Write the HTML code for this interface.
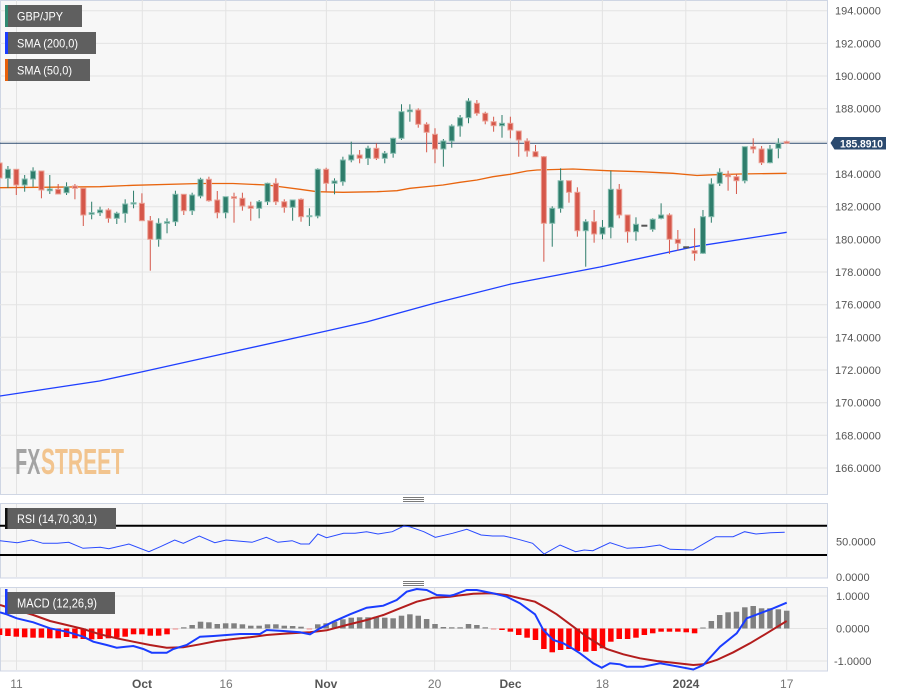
<!DOCTYPE html>
<html><head><meta charset="utf-8"><style>
html,body{margin:0;padding:0;background:#fff;}
svg{display:block;font-family:"Liberation Sans",Arial,sans-serif;}
.g{fill:#2e7d6b;stroke:#2e7d6b;}
.r{fill:#d5574a;stroke:#d5574a;}
rect.g{stroke:#86bdb0;stroke-width:1;}
rect.r{stroke:#eba095;stroke-width:1;}
.ax{font-size:11px;fill:#555;}
.dt{font-size:12px;fill:#777;text-anchor:middle;}
.dm{font-size:12px;fill:#555;font-weight:bold;text-anchor:middle;}
.grid line{stroke:#e3e3e3;stroke-width:1;}
.hr{fill:#ff0000;} .hg{fill:#808080;}
</style></head><body>
<svg width="898" height="697" viewBox="0 0 898 697" xmlns="http://www.w3.org/2000/svg">
<defs>
<clipPath id="cm"><rect x="0" y="0" width="827" height="494"/></clipPath>
<clipPath id="cr"><rect x="0" y="503" width="827" height="75"/></clipPath>
<clipPath id="cd"><rect x="0" y="587" width="827" height="84"/></clipPath>
</defs>
<rect x="0" y="0" width="898" height="697" fill="#fff"/>
<!-- panels -->
<rect x="0.5" y="0.5" width="827" height="494" fill="#f7f7f7" stroke="#cfd6e4"/>
<rect x="0.5" y="503.5" width="827" height="74.5" fill="#f7f7f7" stroke="#cfd6e4"/>
<rect x="0.5" y="587.5" width="827" height="83.5" fill="#f7f7f7" stroke="#cfd6e4"/>

<!-- grids main -->
<g class="grid" clip-path="url(#cm)">
<line x1="0" x2="827" y1="10.7" y2="10.7"/><line x1="0" x2="827" y1="43.4" y2="43.4"/>
<line x1="0" x2="827" y1="76" y2="76"/><line x1="0" x2="827" y1="108.7" y2="108.7"/>
<line x1="0" x2="827" y1="141.3" y2="141.3"/><line x1="0" x2="827" y1="174" y2="174"/>
<line x1="0" x2="827" y1="206.7" y2="206.7"/><line x1="0" x2="827" y1="239.3" y2="239.3"/>
<line x1="0" x2="827" y1="272" y2="272"/><line x1="0" x2="827" y1="304.7" y2="304.7"/>
<line x1="0" x2="827" y1="337.3" y2="337.3"/><line x1="0" x2="827" y1="370" y2="370"/>
<line x1="0" x2="827" y1="402.7" y2="402.7"/><line x1="0" x2="827" y1="435.3" y2="435.3"/>
<line x1="0" x2="827" y1="468" y2="468"/>
<line x1="16.5" x2="16.5" y1="0" y2="494"/><line x1="142.3" x2="142.3" y1="0" y2="494"/>
<line x1="225.8" x2="225.8" y1="0" y2="494"/><line x1="326.4" x2="326.4" y1="0" y2="494"/>
<line x1="434.6" x2="434.6" y1="0" y2="494"/><line x1="510.5" x2="510.5" y1="0" y2="494"/>
<line x1="602.4" x2="602.4" y1="0" y2="494"/><line x1="685.8" x2="685.8" y1="0" y2="494"/>
<line x1="786.7" x2="786.7" y1="0" y2="494"/>
</g>
<g class="grid">
<line x1="16.5" x2="16.5" y1="504" y2="577"/><line x1="142.3" x2="142.3" y1="504" y2="577"/>
<line x1="225.8" x2="225.8" y1="504" y2="577"/><line x1="326.4" x2="326.4" y1="504" y2="577"/>
<line x1="434.6" x2="434.6" y1="504" y2="577"/><line x1="510.5" x2="510.5" y1="504" y2="577"/>
<line x1="602.4" x2="602.4" y1="504" y2="577"/><line x1="685.8" x2="685.8" y1="504" y2="577"/>
<line x1="786.7" x2="786.7" y1="504" y2="577"/>
<line x1="16.5" x2="16.5" y1="588" y2="670"/><line x1="142.3" x2="142.3" y1="588" y2="670"/>
<line x1="225.8" x2="225.8" y1="588" y2="670"/><line x1="326.4" x2="326.4" y1="588" y2="670"/>
<line x1="434.6" x2="434.6" y1="588" y2="670"/><line x1="510.5" x2="510.5" y1="588" y2="670"/>
<line x1="602.4" x2="602.4" y1="588" y2="670"/><line x1="685.8" x2="685.8" y1="588" y2="670"/>
<line x1="786.7" x2="786.7" y1="588" y2="670"/>
<line x1="1" x2="827" y1="596" y2="596"/><line x1="1" x2="827" y1="628.5" y2="628.5"/>
<line x1="1" x2="827" y1="661" y2="661"/>
</g>

<!-- logo -->
<text x="15.3" y="474" font-size="36" font-weight="bold" fill="#a3a3a3" textLength="25" lengthAdjust="spacingAndGlyphs">FX</text>
<text x="41" y="474" font-size="36" font-weight="bold" fill="#f2c48e" textLength="83" lengthAdjust="spacingAndGlyphs">STREET</text>

<g clip-path="url(#cm)">
<!-- SMA 200 -->
<polyline fill="none" stroke="#1f3fff" stroke-width="1.3" points="0,396 99.5,381 142.4,371.7 225.8,353.3 326.4,331 367.4,321.7 434.4,303.3 511,284 600,267 694,246.7 786.7,232.3"/>
<!-- SMA 50 -->
<polyline fill="none" stroke="#e8650f" stroke-width="1.3" points="0,187.7 100,186.7 133,185.3 200,183.5 233,183.5 267,185 300,189.3 317,191.7 343,192.3 377,191.7 397,190.7 410,188.3 443,185 460,182.3 477,180 493,176.7 510,174.3 527,171 537,170 573,169 607,170.7 640,171.7 673,173.3 697,175.5 713,174.8 740,174 786.7,173.3"/>
<!-- price line -->
<line x1="0" x2="827" y1="143.3" y2="143.3" stroke="#2b4a6f" stroke-width="1"/>

<!-- candles -->
<line class="r" x1="-0.45" x2="-0.45" y1="163" y2="183"/><rect class="r" x="-2.95" y="163" width="5" height="15"/>
<line class="g" x1="7.93" x2="7.93" y1="166" y2="188"/><rect class="g" x="5.43" y="169.3" width="5" height="9"/>
<line class="r" x1="16.3" x2="16.3" y1="169.3" y2="195"/><rect class="r" x="13.8" y="169.3" width="5" height="15.7"/>
<line class="g" x1="24.67" x2="24.67" y1="175" y2="191.7"/><rect class="g" x="22.17" y="179" width="5" height="6"/>
<line class="g" x1="33.05" x2="33.05" y1="167.3" y2="186.7"/><rect class="g" x="30.55" y="171" width="5" height="8"/>
<line class="r" x1="41.42" x2="41.42" y1="171" y2="198.3"/><rect class="r" x="38.92" y="171" width="5" height="19"/>
<line class="g" x1="49.8" x2="49.8" y1="175" y2="194"/><rect class="g" x="47.3" y="189" width="5" height="1.7"/>
<line class="r" x1="58.17" x2="58.17" y1="184" y2="194"/><rect class="r" x="55.67" y="189.3" width="5" height="4.7"/>
<line class="g" x1="66.54" x2="66.54" y1="182.3" y2="195"/><rect class="g" x="64.04" y="186.7" width="5" height="6"/>
<line class="r" x1="74.92" x2="74.92" y1="184" y2="199.3"/><rect class="r" x="72.42" y="186" width="5" height="2.3"/>
<line class="r" x1="83.29" x2="83.29" y1="188.3" y2="226"/><rect class="r" x="80.79" y="188.3" width="5" height="26.7"/>
<line class="g" x1="91.67" x2="91.67" y1="201.7" y2="219.3"/><rect class="g" x="89.17" y="212.7" width="5" height="1.6"/>
<line class="g" x1="100.04" x2="100.04" y1="206.7" y2="216"/><rect class="g" x="97.54" y="210" width="5" height="2.7"/>
<line class="r" x1="108.41" x2="108.41" y1="208.3" y2="222.7"/><rect class="r" x="105.91" y="210" width="5" height="8.3"/>
<line class="g" x1="116.79" x2="116.79" y1="211.7" y2="224"/><rect class="g" x="114.29" y="213.3" width="5" height="5"/>
<line class="g" x1="125.16" x2="125.16" y1="199.3" y2="222.7"/><rect class="g" x="122.66" y="204" width="5" height="9.3"/>
<line class="g" x1="133.54" x2="133.54" y1="190.7" y2="208.3"/><rect class="g" x="131.04" y="202.7" width="5" height="1.3"/>
<line class="r" x1="141.91" x2="141.91" y1="193.3" y2="220.7"/><rect class="r" x="139.41" y="203.3" width="5" height="17.4"/>
<line class="r" x1="150.28" x2="150.28" y1="216" y2="270.7"/><rect class="r" x="147.78" y="220.7" width="5" height="18.6"/>
<line class="g" x1="158.66" x2="158.66" y1="218.3" y2="246.7"/><rect class="g" x="156.16" y="223.3" width="5" height="16"/>
<line class="g" x1="167.03" x2="167.03" y1="218.3" y2="233.3"/><rect class="g" x="164.53" y="221.7" width="5" height="1.6"/>
<line class="g" x1="175.41" x2="175.41" y1="190.7" y2="226"/><rect class="g" x="172.91" y="194.3" width="5" height="27.4"/>
<line class="r" x1="183.78" x2="183.78" y1="194.3" y2="215"/><rect class="r" x="181.28" y="194.3" width="5" height="16.4"/>
<line class="g" x1="192.15" x2="192.15" y1="192.7" y2="215"/><rect class="g" x="189.65" y="195" width="5" height="15.7"/>
<line class="g" x1="200.53" x2="200.53" y1="177.7" y2="198.3"/><rect class="g" x="198.03" y="179.3" width="5" height="16.7"/>
<line class="r" x1="208.9" x2="208.9" y1="176.7" y2="201.7"/><rect class="r" x="206.4" y="179.3" width="5" height="21.4"/>
<line class="r" x1="217.28" x2="217.28" y1="191" y2="218.3"/><rect class="r" x="214.78" y="200" width="5" height="12.7"/>
<line class="g" x1="225.65" x2="225.65" y1="196.7" y2="218.3"/><rect class="g" x="223.15" y="196.7" width="5" height="16"/>
<line class="r" x1="234.02" x2="234.02" y1="192.7" y2="222.7"/><rect class="r" x="231.52" y="196.7" width="5" height="1.6"/>
<line class="r" x1="242.4" x2="242.4" y1="192.7" y2="210.7"/><rect class="r" x="239.9" y="198.3" width="5" height="7.7"/>
<line class="r" x1="250.77" x2="250.77" y1="201.7" y2="220.7"/><rect class="r" x="248.27" y="206" width="5" height="2.3"/>
<line class="g" x1="259.15" x2="259.15" y1="200" y2="218.3"/><rect class="g" x="256.65" y="201.7" width="5" height="6.6"/>
<line class="g" x1="267.52" x2="267.52" y1="182.7" y2="205"/><rect class="g" x="265.02" y="183.3" width="5" height="18.4"/>
<line class="r" x1="275.89" x2="275.89" y1="178.3" y2="205"/><rect class="r" x="273.39" y="183.3" width="5" height="18.4"/>
<line class="r" x1="284.27" x2="284.27" y1="199.3" y2="212.7"/><rect class="r" x="281.77" y="201.7" width="5" height="5.6"/>
<line class="g" x1="292.64" x2="292.64" y1="200" y2="220.7"/><rect class="g" x="290.14" y="200" width="5" height="7.3"/>
<line class="r" x1="301.02" x2="301.02" y1="198.3" y2="221.7"/><rect class="r" x="298.52" y="199.3" width="5" height="17.4"/>
<line class="g" x1="309.39" x2="309.39" y1="208.3" y2="226"/><rect class="g" x="306.89" y="215.7" width="5" height="1"/>
<line class="g" x1="317.76" x2="317.76" y1="168.3" y2="218.3"/><rect class="g" x="315.26" y="169.3" width="5" height="46.7"/>
<line class="r" x1="326.14" x2="326.14" y1="167.7" y2="191.7"/><rect class="r" x="323.64" y="169.3" width="5" height="14"/>
<line class="g" x1="334.51" x2="334.51" y1="178.3" y2="194.3"/><rect class="g" x="332.01" y="181" width="5" height="2.3"/>
<line class="g" x1="342.89" x2="342.89" y1="156.7" y2="185.7"/><rect class="g" x="340.39" y="160" width="5" height="21.7"/>
<line class="g" x1="351.26" x2="351.26" y1="141.7" y2="162.3"/><rect class="g" x="348.76" y="155" width="5" height="5"/>
<line class="r" x1="359.63" x2="359.63" y1="150" y2="163.3"/><rect class="r" x="357.13" y="155" width="5" height="3.3"/>
<line class="g" x1="368.01" x2="368.01" y1="145.7" y2="165"/><rect class="g" x="365.51" y="148.3" width="5" height="10"/>
<line class="r" x1="376.38" x2="376.38" y1="143.3" y2="160"/><rect class="r" x="373.88" y="148.3" width="5" height="10"/>
<line class="g" x1="384.76" x2="384.76" y1="151" y2="163.3"/><rect class="g" x="382.26" y="153.3" width="5" height="5"/>
<line class="g" x1="393.13" x2="393.13" y1="137.7" y2="157.7"/><rect class="g" x="390.63" y="138.3" width="5" height="15"/>
<line class="g" x1="401.5" x2="401.5" y1="104.3" y2="140"/><rect class="g" x="399" y="111.7" width="5" height="26.6"/>
<line class="g" x1="409.88" x2="409.88" y1="104.3" y2="121.7"/><rect class="g" x="407.38" y="110" width="5" height="1.7"/>
<line class="r" x1="418.25" x2="418.25" y1="108.3" y2="127.7"/><rect class="r" x="415.75" y="110" width="5" height="14.3"/>
<line class="r" x1="426.63" x2="426.63" y1="122.3" y2="152.3"/><rect class="r" x="424.13" y="124.3" width="5" height="8"/>
<line class="r" x1="435" x2="435" y1="128.3" y2="163.3"/><rect class="r" x="432.5" y="134.3" width="5" height="14.7"/>
<line class="g" x1="443.37" x2="443.37" y1="139" y2="166.7"/><rect class="g" x="440.87" y="141" width="5" height="8"/>
<line class="g" x1="451.75" x2="451.75" y1="124.3" y2="147.7"/><rect class="g" x="449.25" y="126" width="5" height="15"/>
<line class="g" x1="460.12" x2="460.12" y1="115" y2="136.7"/><rect class="g" x="457.62" y="117.7" width="5" height="8.3"/>
<line class="g" x1="468.5" x2="468.5" y1="98.3" y2="123.3"/><rect class="g" x="466" y="101" width="5" height="16.7"/>
<line class="r" x1="476.87" x2="476.87" y1="100" y2="115.7"/><rect class="r" x="474.37" y="103.3" width="5" height="10"/>
<line class="r" x1="485.24" x2="485.24" y1="111.7" y2="124.3"/><rect class="r" x="482.74" y="113.3" width="5" height="7.7"/>
<line class="r" x1="493.62" x2="493.62" y1="116.7" y2="131.7"/><rect class="r" x="491.12" y="121.7" width="5" height="4"/>
<line class="g" x1="501.99" x2="501.99" y1="115" y2="137.7"/><rect class="g" x="499.49" y="123.3" width="5" height="2.4"/>
<line class="r" x1="510.37" x2="510.37" y1="116.7" y2="138.3"/><rect class="r" x="507.87" y="123.3" width="5" height="6.7"/>
<line class="r" x1="518.74" x2="518.74" y1="131" y2="156.7"/><rect class="r" x="516.24" y="131" width="5" height="9"/>
<line class="r" x1="527.11" x2="527.11" y1="138.3" y2="156.7"/><rect class="r" x="524.61" y="141" width="5" height="10"/>
<line class="r" x1="535.49" x2="535.49" y1="145" y2="156.7"/><rect class="r" x="532.99" y="151.7" width="5" height="5"/>
<line class="r" x1="543.86" x2="543.86" y1="156" y2="261.7"/><rect class="r" x="541.36" y="156.7" width="5" height="66.6"/>
<line class="g" x1="552.24" x2="552.24" y1="206.3" y2="246.7"/><rect class="g" x="549.74" y="208.3" width="5" height="15"/>
<line class="g" x1="560.61" x2="560.61" y1="168.3" y2="212.7"/><rect class="g" x="558.11" y="180.7" width="5" height="27.6"/>
<line class="r" x1="568.98" x2="568.98" y1="180.7" y2="202.7"/><rect class="r" x="566.48" y="180.7" width="5" height="11.6"/>
<line class="r" x1="577.36" x2="577.36" y1="187.3" y2="236.7"/><rect class="r" x="574.86" y="192.3" width="5" height="38.4"/>
<line class="g" x1="585.73" x2="585.73" y1="219.3" y2="266.7"/><rect class="g" x="583.23" y="221.7" width="5" height="9"/>
<line class="r" x1="594.11" x2="594.11" y1="210" y2="242.7"/><rect class="r" x="591.61" y="221.7" width="5" height="12.3"/>
<line class="g" x1="602.48" x2="602.48" y1="220" y2="239.3"/><rect class="g" x="599.98" y="227.3" width="5" height="6.7"/>
<line class="g" x1="610.85" x2="610.85" y1="170.7" y2="238.3"/><rect class="g" x="608.35" y="189.3" width="5" height="38"/>
<line class="r" x1="619.23" x2="619.23" y1="184" y2="218.3"/><rect class="r" x="616.73" y="189.3" width="5" height="25.7"/>
<line class="r" x1="627.6" x2="627.6" y1="215" y2="242.7"/><rect class="r" x="625.1" y="215" width="5" height="16.7"/>
<line class="g" x1="635.98" x2="635.98" y1="217.3" y2="240.7"/><rect class="g" x="633.48" y="224.3" width="5" height="7.4"/>
<rect x="641.35" y="224.7" width="6" height="2" fill="#555"/>
<line class="g" x1="652.72" x2="652.72" y1="218.3" y2="231.7"/><rect class="g" x="650.22" y="219.3" width="5" height="10"/>
<line class="g" x1="661.1" x2="661.1" y1="203.3" y2="219.3"/><rect class="g" x="658.6" y="215" width="5" height="3.3"/>
<line class="r" x1="669.47" x2="669.47" y1="213.3" y2="254"/><rect class="r" x="666.97" y="215" width="5" height="24.3"/>
<line class="r" x1="677.85" x2="677.85" y1="230" y2="250.7"/><rect class="r" x="675.35" y="239.3" width="5" height="4"/>
<rect x="683.22" y="246.3" width="6" height="2" fill="#555"/>
<line class="r" x1="694.59" x2="694.59" y1="228.3" y2="260.7"/><rect class="r" x="692.09" y="250.7" width="5" height="2.6"/>
<line class="g" x1="702.97" x2="702.97" y1="210" y2="254"/><rect class="g" x="700.47" y="216.7" width="5" height="36.6"/>
<line class="g" x1="711.34" x2="711.34" y1="178.3" y2="222.7"/><rect class="g" x="708.84" y="184" width="5" height="32.7"/>
<line class="g" x1="719.72" x2="719.72" y1="168.3" y2="186"/><rect class="g" x="717.22" y="172.3" width="5" height="11"/>
<line class="r" x1="728.09" x2="728.09" y1="170.7" y2="190.7"/><rect class="r" x="725.59" y="175" width="5" height="1.7"/>
<line class="r" x1="736.46" x2="736.46" y1="174" y2="194"/><rect class="r" x="733.96" y="176.7" width="5" height="4"/>
<line class="g" x1="744.84" x2="744.84" y1="146.7" y2="183.3"/><rect class="g" x="742.34" y="146.7" width="5" height="34"/>
<line class="r" x1="753.21" x2="753.21" y1="138.3" y2="153.3"/><rect class="r" x="750.71" y="146.7" width="5" height="2.3"/>
<line class="r" x1="761.59" x2="761.59" y1="146" y2="165"/><rect class="r" x="759.09" y="149" width="5" height="13.7"/>
<line class="g" x1="769.96" x2="769.96" y1="145" y2="163.3"/><rect class="g" x="767.46" y="149" width="5" height="13.7"/>
<line class="g" x1="778.33" x2="778.33" y1="138.3" y2="158.3"/><rect class="g" x="775.83" y="143.3" width="5" height="5"/>
<line class="r" x1="786.71" x2="786.71" y1="140.7" y2="143.3"/><rect class="r" x="784.21" y="141.7" width="5" height="1.6"/>
</g>

<!-- legend -->
<rect x="5" y="5" width="77" height="22" fill="#5f5f5f"/><rect x="5" y="5" width="3" height="22" fill="#2f8a72"/>
<text x="17" y="20.5" font-size="12" fill="#fff" textLength="46" lengthAdjust="spacingAndGlyphs">GBP/JPY</text>
<rect x="5" y="32" width="91" height="22" fill="#5f5f5f"/><rect x="5" y="32" width="3" height="22" fill="#1a3cff"/>
<text x="17" y="47.5" font-size="12" fill="#fff" textLength="61" lengthAdjust="spacingAndGlyphs">SMA (200,0)</text>
<rect x="5" y="59" width="85" height="22" fill="#5f5f5f"/><rect x="5" y="59" width="3" height="22" fill="#e8600a"/>
<text x="17" y="74.5" font-size="12" fill="#fff" textLength="55" lengthAdjust="spacingAndGlyphs">SMA (50,0)</text>

<!-- right axis main -->
<text class="ax" x="835" y="14.7">194.0000</text>
<text class="ax" x="835" y="47.4">192.0000</text>
<text class="ax" x="835" y="80">190.0000</text>
<text class="ax" x="835" y="112.7">188.0000</text>
<text class="ax" x="835" y="178">184.0000</text>
<text class="ax" x="835" y="210.7">182.0000</text>
<text class="ax" x="835" y="243.3">180.0000</text>
<text class="ax" x="835" y="276">178.0000</text>
<text class="ax" x="835" y="308.7">176.0000</text>
<text class="ax" x="835" y="341.3">174.0000</text>
<text class="ax" x="835" y="374">172.0000</text>
<text class="ax" x="835" y="406.7">170.0000</text>
<text class="ax" x="835" y="439.3">168.0000</text>
<text class="ax" x="835" y="472">166.0000</text>
<polygon points="830.5,143 834.5,137 886,137 886,149.5 834.5,149.5" fill="#2b4a6f"/>
<text x="840" y="147.3" font-size="11" font-weight="bold" fill="#fff" textLength="43" lengthAdjust="spacingAndGlyphs">185.8910</text>

<!-- separators -->
<g stroke="#7a7a7a" stroke-width="1">
<line x1="403" x2="424" y1="497.5" y2="497.5"/><line x1="403" x2="424" y1="499.5" y2="499.5"/><line x1="403" x2="424" y1="501.5" y2="501.5"/>
<line x1="403" x2="424" y1="581.5" y2="581.5"/><line x1="403" x2="424" y1="583.5" y2="583.5"/><line x1="403" x2="424" y1="585.5" y2="585.5"/>
</g>

<!-- RSI -->
<g clip-path="url(#cr)">
<line x1="0" x2="827" y1="525.7" y2="525.7" stroke="#000" stroke-width="2"/>
<line x1="0" x2="827" y1="555" y2="555" stroke="#000" stroke-width="2"/>
<polyline fill="none" stroke="#2a4bff" stroke-width="1" points="0,540.7 17.2,542.7 31.5,540 43,543.3 57.3,543.3 68.7,542.3 83,548.3 100.2,547.3 108.8,548.7 128.9,544 148.9,551.7 160.4,546.7 174.7,540 183.3,543.3 199.3,536 214.8,542.7 226.2,540 234.8,540.7 252,542.3 266.3,537.3 277.8,542.3 292.1,540.7 300.7,544 309.3,544 317.9,534 326.5,537.7 343.6,533.3 355.1,533.3 366.6,531.7 378,534 392.3,531.7 403.8,526 409.5,526.7 423.8,531.7 435.3,537.3 452.5,533.3 466.8,529.3 481.1,535 492.6,536 504,536 518.3,539.3 532.6,543.3 544.1,554 560.1,545 575.6,551.7 584.2,550 592.8,550.7 610,542.7 627.1,548.3 644.3,547.3 659.8,545 670.1,549.3 693,550 707.3,541.7 715.9,536.7 733.1,536.7 744.6,531.7 756,534 770.3,532.7 784.7,532.3"/>
</g>
<rect x="5" y="508" width="111" height="21" fill="#5f5f5f"/><rect x="5" y="508" width="2.5" height="21" fill="#111"/>
<text x="17" y="523" font-size="12" fill="#fff" textLength="80" lengthAdjust="spacingAndGlyphs">RSI (14,70,30,1)</text>
<text class="ax" x="836" y="545.5">50.0000</text>
<text class="ax" x="836" y="581">0.0000</text>

<!-- MACD -->
<g clip-path="url(#cd)">
<rect class="hr" x="-3.2" y="628.5" width="5.5" height="6.5"/>
<rect class="hr" x="5.18" y="628.5" width="5.5" height="7.5"/>
<rect class="hr" x="13.55" y="628.5" width="5.5" height="8.2"/>
<rect class="hr" x="21.92" y="628.5" width="5.5" height="8.8"/>
<rect class="hr" x="30.3" y="628.5" width="5.5" height="9.2"/>
<rect class="hr" x="38.67" y="628.5" width="5.5" height="9.2"/>
<rect class="hr" x="47.05" y="628.5" width="5.5" height="9.8"/>
<rect class="hr" x="55.42" y="628.5" width="5.5" height="9.8"/>
<rect class="hr" x="63.79" y="628.5" width="5.5" height="8.5"/>
<rect class="hr" x="72.17" y="628.5" width="5.5" height="9.8"/>
<rect class="hr" x="80.54" y="628.5" width="5.5" height="10.5"/>
<rect class="hr" x="88.92" y="628.5" width="5.5" height="10.8"/>
<rect class="hr" x="97.29" y="628.5" width="5.5" height="10.5"/>
<rect class="hr" x="105.66" y="628.5" width="5.5" height="9.8"/>
<rect class="hr" x="114.04" y="628.5" width="5.5" height="9.2"/>
<rect class="hr" x="122.41" y="628.5" width="5.5" height="8.2"/>
<rect class="hr" x="130.79" y="628.5" width="5.5" height="5.8"/>
<rect class="hr" x="139.16" y="628.5" width="5.5" height="5.8"/>
<rect class="hr" x="147.53" y="628.5" width="5.5" height="7.2"/>
<rect class="hr" x="155.91" y="628.5" width="5.5" height="7.2"/>
<rect class="hr" x="164.28" y="628.5" width="5.5" height="5.8"/>
<rect x="172.66" y="628.5" width="5.5" height="1" fill="#f08a8a"/>
<rect class="hg" x="181.03" y="627.3" width="5.5" height="1.2"/>
<rect class="hg" x="189.4" y="625" width="5.5" height="3.5"/>
<rect class="hg" x="197.78" y="621.7" width="5.5" height="6.8"/>
<rect class="hg" x="206.15" y="622.3" width="5.5" height="6.2"/>
<rect class="hg" x="214.53" y="624" width="5.5" height="4.5"/>
<rect class="hg" x="222.9" y="623.3" width="5.5" height="5.2"/>
<rect class="hg" x="231.27" y="623.3" width="5.5" height="5.2"/>
<rect class="hg" x="239.65" y="624.3" width="5.5" height="4.2"/>
<rect class="hg" x="248.02" y="625.7" width="5.5" height="2.8"/>
<rect class="hg" x="256.4" y="625.7" width="5.5" height="2.8"/>
<rect class="hg" x="264.77" y="624.3" width="5.5" height="4.2"/>
<rect class="hg" x="273.14" y="624.3" width="5.5" height="4.2"/>
<rect class="hg" x="281.52" y="625.7" width="5.5" height="2.8"/>
<rect class="hg" x="289.89" y="626" width="5.5" height="2.5"/>
<rect class="hg" x="298.27" y="626.7" width="5.5" height="1.8"/>
<rect x="306.64" y="628.5" width="5.5" height="1" fill="#f08a8a"/>
<rect class="hg" x="315.01" y="624.3" width="5.5" height="4.2"/>
<rect class="hg" x="323.39" y="623.3" width="5.5" height="5.2"/>
<rect class="hg" x="331.76" y="621.7" width="5.5" height="6.8"/>
<rect class="hg" x="340.14" y="619.3" width="5.5" height="9.2"/>
<rect class="hg" x="348.51" y="617.7" width="5.5" height="10.8"/>
<rect class="hg" x="356.88" y="617.3" width="5.5" height="11.2"/>
<rect class="hg" x="365.26" y="617.3" width="5.5" height="11.2"/>
<rect class="hg" x="373.63" y="616.7" width="5.5" height="11.8"/>
<rect class="hg" x="382.01" y="617.7" width="5.5" height="10.8"/>
<rect class="hg" x="390.38" y="618.3" width="5.5" height="10.2"/>
<rect class="hg" x="398.75" y="615.7" width="5.5" height="12.8"/>
<rect class="hg" x="407.13" y="614.3" width="5.5" height="14.2"/>
<rect class="hg" x="415.5" y="615.7" width="5.5" height="12.8"/>
<rect class="hg" x="423.88" y="619" width="5.5" height="9.5"/>
<rect class="hg" x="432.25" y="624" width="5.5" height="4.5"/>
<rect class="hg" x="440.62" y="627" width="5.5" height="1.5"/>
<rect class="hg" x="449" y="627.3" width="5.5" height="1.2"/>
<rect class="hg" x="457.37" y="627.3" width="5.5" height="1.2"/>
<rect class="hg" x="465.75" y="624" width="5.5" height="4.5"/>
<rect class="hg" x="474.12" y="625" width="5.5" height="3.5"/>
<rect class="hg" x="482.49" y="627.3" width="5.5" height="1.2"/>
<rect x="490.87" y="628.5" width="5.5" height="1" fill="#f08a8a"/>
<rect class="hr" x="499.24" y="628.5" width="5.5" height="1.5"/>
<rect class="hr" x="507.62" y="628.5" width="5.5" height="3.2"/>
<rect class="hr" x="515.99" y="628.5" width="5.5" height="6.5"/>
<rect class="hr" x="524.36" y="628.5" width="5.5" height="9.2"/>
<rect class="hr" x="532.74" y="628.5" width="5.5" height="11.5"/>
<rect class="hr" x="541.11" y="628.5" width="5.5" height="20.5"/>
<rect class="hr" x="549.49" y="628.5" width="5.5" height="23.8"/>
<rect class="hr" x="557.86" y="628.5" width="5.5" height="21.5"/>
<rect class="hr" x="566.23" y="628.5" width="5.5" height="20.5"/>
<rect class="hr" x="574.61" y="628.5" width="5.5" height="22.5"/>
<rect class="hr" x="582.98" y="628.5" width="5.5" height="23.2"/>
<rect class="hr" x="591.36" y="628.5" width="5.5" height="22.5"/>
<rect class="hr" x="599.73" y="628.5" width="5.5" height="19.8"/>
<rect class="hr" x="608.1" y="628.5" width="5.5" height="13.2"/>
<rect class="hr" x="616.48" y="628.5" width="5.5" height="10.5"/>
<rect class="hr" x="624.85" y="628.5" width="5.5" height="10.5"/>
<rect class="hr" x="633.23" y="628.5" width="5.5" height="9.2"/>
<rect class="hr" x="641.6" y="628.5" width="5.5" height="6.5"/>
<rect class="hr" x="649.97" y="628.5" width="5.5" height="4.8"/>
<rect class="hr" x="658.35" y="628.5" width="5.5" height="3.2"/>
<rect class="hr" x="666.72" y="628.5" width="5.5" height="3.2"/>
<rect class="hr" x="675.1" y="628.5" width="5.5" height="3.2"/>
<rect class="hr" x="683.47" y="628.5" width="5.5" height="3.8"/>
<rect class="hr" x="691.84" y="628.5" width="5.5" height="4.8"/>
<rect class="hg" x="700.22" y="627.5" width="5.5" height="1"/>
<rect class="hg" x="708.59" y="621" width="5.5" height="7.5"/>
<rect class="hg" x="716.97" y="615" width="5.5" height="13.5"/>
<rect class="hg" x="725.34" y="612.3" width="5.5" height="16.2"/>
<rect class="hg" x="733.71" y="611.7" width="5.5" height="16.8"/>
<rect class="hg" x="742.09" y="607.3" width="5.5" height="21.2"/>
<rect class="hg" x="750.46" y="606" width="5.5" height="22.5"/>
<rect class="hg" x="758.84" y="608.3" width="5.5" height="20.2"/>
<rect class="hg" x="767.21" y="608.3" width="5.5" height="20.2"/>
<rect class="hg" x="775.58" y="609.3" width="5.5" height="19.2"/>
<rect class="hg" x="783.96" y="610.7" width="5.5" height="17.8"/>

<polyline fill="none" stroke="#b31d1d" stroke-width="2" points="0,605 16.7,610 33.3,615 50,621 66.7,625 83.3,629 100,634.3 116.7,638.3 133.3,641.7 150,645 166.7,647.7 183.3,647.3 200,644.3 216.7,641 233.3,639 250,637.3 266.7,635 283.3,633.7 300,632.7 310,632.3 326.7,630.3 346.7,625 366.7,620 383.3,615 400,608.3 416.7,601.7 433.3,597.7 450,596.7 456.7,595.7 473.3,593.7 490,593.3 506.7,595 520,598.3 535,601.7 546.7,608.3 556.7,614.3 573.3,626.7 586.7,636.7 600,645 606.7,649 623.3,654.3 640,658.3 656.7,661 673.3,662.7 693.3,665 703.3,664.3 716.7,660 733.3,652.3 750,643.3 766.7,633.3 786.7,621"/>
<polyline fill="none" stroke="#1a3cff" stroke-width="2" points="0,612.3 6.7,614.3 16.7,618.3 33.3,622.3 50,628.3 66.7,631.7 83.3,636.7 93.3,641.7 106.7,645 116.7,647.7 133.3,646 143.3,649 151.7,652.7 166.7,652.7 173.3,649 186.7,645 200,636.7 213.3,636 226.7,635 240,634 260,634 266.7,630 283.3,631 300,632.3 310,634.3 320,628.3 333.3,621.7 350,614.3 366.7,607.7 383.3,605.7 396.7,600 406.7,591.7 416.7,589 426.7,590 436.7,595 450,595.7 453.3,595 466.7,590 476.7,590 493.3,593.3 506.7,596.7 520,603.3 535,614.3 543.3,630 553.3,640 563.3,643.3 573.3,649 580,653.3 593.3,663.3 601.7,667.7 610,663.3 620,664.3 626.7,666.7 643.3,666.7 660,663.3 673.3,665.7 693.3,669.5 703.3,665 720,646.7 736.7,633.3 746.7,618.3 760,613.3 773.3,608.3 786.7,602.7"/>
</g>
<rect x="5" y="592" width="110" height="22" fill="#5f5f5f"/><rect x="5" y="589" width="2.5" height="25" fill="#1a3cff"/>
<text x="17" y="607.5" font-size="12.5" fill="#fff" textLength="80" lengthAdjust="spacingAndGlyphs">MACD (12,26,9)</text>
<text class="ax" x="836" y="600">1.0000</text>
<text class="ax" x="836" y="632.5">0.0000</text>
<text class="ax" x="834" y="665">-1.0000</text>

<!-- dates -->
<text class="dt" x="16.5" y="688">11</text>
<text class="dm" x="142" y="688">Oct</text>
<text class="dt" x="226" y="688">16</text>
<text class="dm" x="326" y="688">Nov</text>
<text class="dt" x="434.6" y="688">20</text>
<text class="dm" x="510.5" y="688">Dec</text>
<text class="dt" x="602.4" y="688">18</text>
<text class="dm" x="686" y="688">2024</text>
<text class="dt" x="786.7" y="688">17</text>
</svg>
</body></html>
